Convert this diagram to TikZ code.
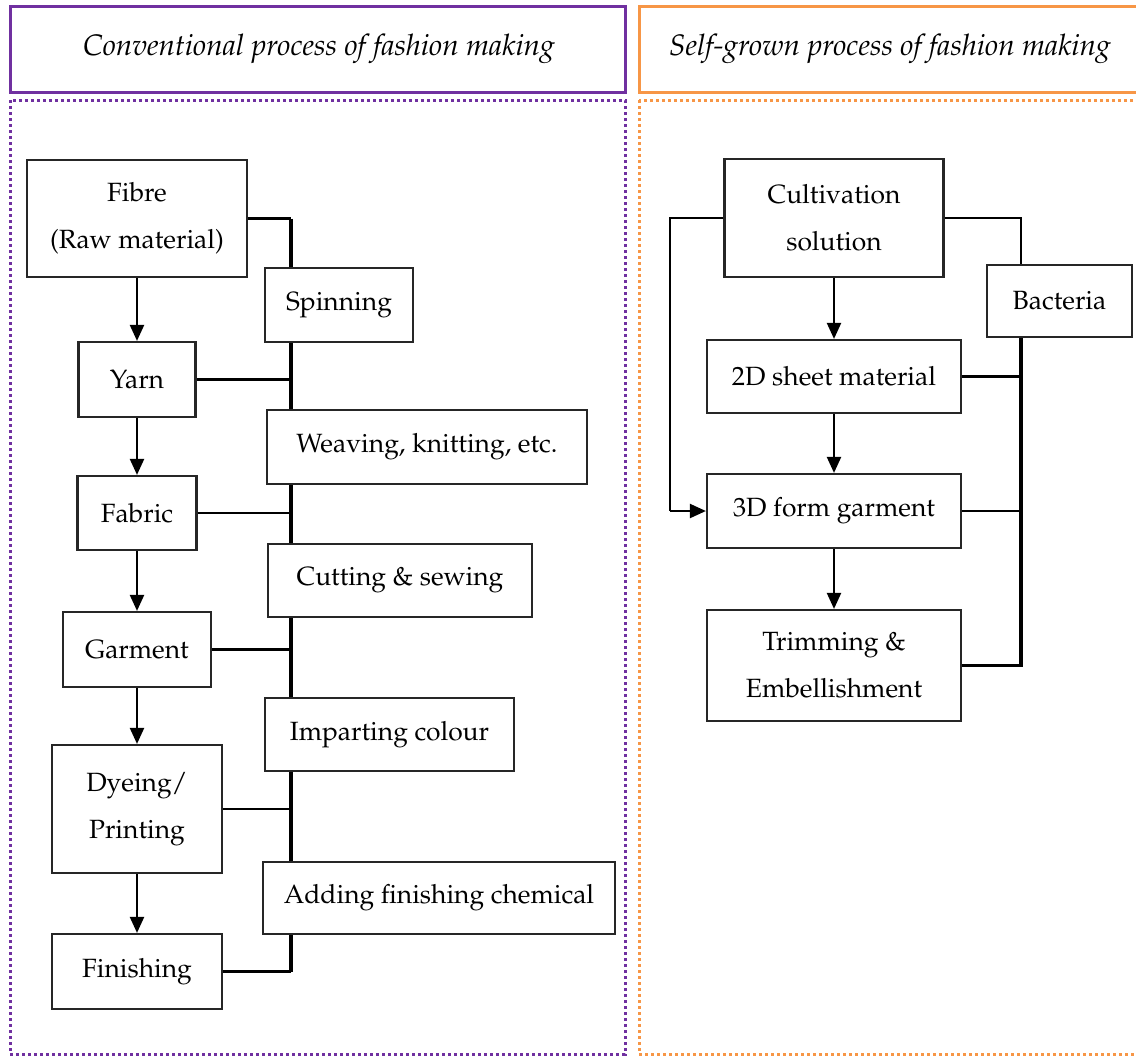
\documentclass[tikz,border=0pt]{standalone}
\usepackage[T1]{fontenc}
\usepackage{mathpazo}
\usetikzlibrary{arrows.meta}
\definecolor{convpurple}{RGB}{112,48,160}
\definecolor{selforange}{RGB}{247,150,70}
\tikzset{
  procbox/.style={draw=black!85, line width=1.1pt, align=center, inner sep=0pt,
    font=\fontsize{13.2}{23.5}\selectfont},
  headtext/.style={font=\fontsize{14.8}{17}\selectfont\itshape},
  flow/.style={line width=1.1pt, -{Triangle[length=8pt,width=7pt]}},
  link/.style={line width=1.1pt},
  spine/.style={line width=1.6pt},
  dotbox/.style={line width=1.5pt, dash pattern=on 1.5pt off 1.5pt},
}
\begin{document}
\begin{tikzpicture}[x=0.5pt,y=-0.5pt]
  \useasboundingbox (0,0) rectangle (1136,1057);

  %%%%% HEADERS %%%%%
  \draw[convpurple, line width=1.5pt] (10,6) rectangle (625,92);
  \node[headtext] (convhead) at (319,49) {Conventional process of fashion making};
  \draw[selforange, line width=1.5pt] (639,6) rectangle (1150,92);
  \node[headtext] (selfhead) at (890,49) {Self-grown process of fashion making};

  \draw[convpurple, dotbox] (10,100) rectangle (625,1054);
  \draw[selforange, dotbox] (639,100) rectangle (1150,1054);

  %%%%% CONVENTIONAL %%%%%
  \coordinate (lspine) at (291,0);

  \node[procbox, minimum width=110pt, minimum height=58.5pt] (fibre) at (137,218.5) {Fibre\\(Raw material)};
  \node[procbox, minimum width=58.5pt, minimum height=37.5pt] (yarn) at (137,379.5) {Yarn};
  \node[procbox, minimum width=59.5pt, minimum height=37pt] (fabric) at (137,513) {Fabric};
  \node[procbox, minimum width=74pt, minimum height=37.5pt] (garment) at (137,649.5) {Garment};
  \node[procbox, minimum width=85pt, minimum height=64pt] (dyeing) at (137,809) {Dyeing/\\Printing};
  \node[procbox, minimum width=85pt, minimum height=37.5pt] (finishing) at (137,971.5) {Finishing};

  \node[procbox, minimum width=74pt, minimum height=37pt] (spinning) at (339,305) {Spinning};
  \node[procbox, minimum width=160pt, minimum height=37pt] (weaving) at (427,447) {Weaving, knitting, etc.};
  \node[procbox, minimum width=132pt, minimum height=36.5pt] (cutting) at (400,580.5) {Cutting \& sewing};
  \node[procbox, minimum width=124.5pt, minimum height=36.5pt] (imparting) at (389.5,734.5) {Imparting colour};
  \node[procbox, minimum width=176pt, minimum height=36pt] (adding) at (439,898) {Adding finishing chemical};

  \foreach \a/\b in {fibre/yarn, yarn/fabric, fabric/garment, garment/dyeing, dyeing/finishing}
    \draw[flow] (\a) -- (\b);

  \draw[link] (fibre.east) -- (fibre.east -| lspine);
  \draw[spine] (fibre.east -| lspine) -- (spinning.north -| lspine);
  \foreach \a/\b in {spinning/weaving, weaving/cutting, cutting/imparting, imparting/adding}
    \draw[spine] (\a.south -| lspine) -- (\b.north -| lspine);
  \foreach \n in {yarn, fabric, garment, dyeing}
    \draw[link] (\n.east) -- (\n.east -| lspine);
  \draw[spine] (adding.south -| lspine) -- (finishing.east -| lspine);
  \draw[link] (finishing.east -| lspine) -- (finishing.east);

  %%%%% SELF-GROWN %%%%%
  \coordinate (lbus) at (670,0);
  \coordinate (rbus) at (1021,0);

  \node[procbox, minimum width=109.5pt, minimum height=59pt] (cultivation) at (834,218) {Cultivation\\solution};
  \node[procbox, minimum width=127pt, minimum height=36.5pt] (sheet) at (834,376.5) {2D sheet material};
  \node[procbox, minimum width=127pt, minimum height=37pt] (form) at (834,511) {3D form garment};
  \node[procbox, minimum width=127pt, minimum height=55.5pt] (trimming) at (834,665.5) {Trimming \&\\Embellishment};
  \node[procbox, minimum width=72.5pt, minimum height=36pt] (bacteria) at (1059.5,301) {Bacteria};

  \foreach \a/\b in {cultivation/sheet, sheet/form, form/trimming}
    \draw[flow] (\a) -- (\b);

  \draw[link] (cultivation.west) -| (form.west -| lbus);
  \draw[flow] (form.west -| lbus) -- (form.west);
  \draw[link] (cultivation.east) -| (bacteria.north -| rbus);
  \draw[spine] (bacteria.south -| rbus) |- (trimming.east);
  \foreach \n in {sheet, form}
    \draw[link] (\n.east) -- (\n.east -| rbus);
\end{tikzpicture}
\end{document}
